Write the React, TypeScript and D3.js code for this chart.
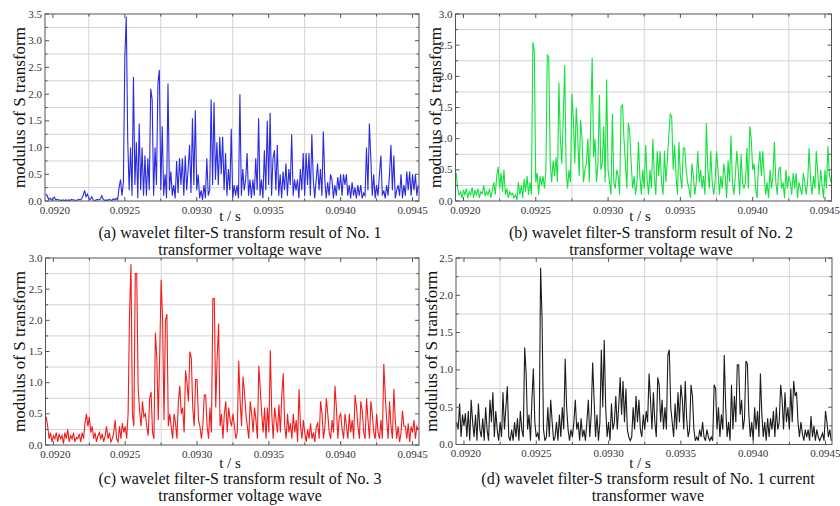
import React from 'react';
import * as d3 from 'd3';

const T_START = 0.09195;
const T_STEP = 0.00001;
const X_DOMAIN = [0.091945, 0.094545];
const X_TICKS = [0.092, 0.0925, 0.093, 0.0935, 0.094, 0.0945];
const X_GRID = [0.09225, 0.09275, 0.09325, 0.09375, 0.09425];

const seriesA = [
  0.13, 0.1, 0.03, 0.05, 0.02, 0.04, 0.07, 0.02, 0.03, 0.02,
  0.02, 0.01, 0.02, 0.01, 0.02, 0.01, 0.02, 0.01, 0.03, 0.02,
  0.02, 0.01, 0.02, 0.03, 0.02, 0.04, 0.1, 0.2, 0.08, 0.13,
  0.05, 0.03, 0.08, 0.02, 0.01, 0.02, 0.03, 0.02, 0.04, 0.1,
  0.03, 0.01, 0.02, 0.01, 0.03, 0.02, 0.01, 0.04, 0.02, 0.05,
  0.02, 0.25, 0.4, 0.1, 0.35, 2.7, 3.45, 1.15, 0.2, 1.0,
  0.1, 2.32, 0.3, 1.1, 0.05, 1.45, 0.2, 1.0, 0.1, 0.85,
  0.1, 0.8, 0.2, 2.1, 1.9, 0.1, 1.0, 0.3, 2.2, 2.45,
  0.2, 1.4, 0.1, 0.5, 0.05, 2.2, 0.2, 0.55, 0.1, 0.3,
  0.05, 0.75, 0.15, 0.8, 0.3, 0.8, 0.1, 0.85, 0.2, 0.6,
  1.05, 0.15, 1.55, 0.3, 1.7, 0.2, 0.5, 0.05, 0.2, 0.02,
  0.3, 0.05, 0.8, 0.1, 0.2, 1.9, 0.3, 1.85, 0.4, 1.1,
  0.3, 1.2, 0.5, 1.2, 0.2, 0.9, 0.1, 0.6, 0.2, 1.35,
  0.05, 0.3, 0.1, 0.3, 0.05, 2.0, 0.1, 0.6, 0.2, 0.4,
  0.9, 0.1, 0.4, 0.05, 0.4, 0.1, 0.8, 0.2, 1.55, 0.1,
  0.4, 0.05, 0.95, 0.2, 1.5, 0.3, 1.65, 0.1, 0.8, 0.95,
  0.2, 1.05, 0.1, 0.5, 0.05, 0.55, 0.2, 0.7, 0.1, 0.6,
  0.3, 1.25, 0.1, 0.4, 0.2, 0.4, 0.05, 0.6, 0.2, 0.9,
  0.1, 0.9, 0.3, 0.9, 0.1, 1.25, 0.4, 0.05, 0.4, 0.7,
  0.2, 0.6, 0.1, 1.3, 0.4, 0.05, 0.35, 0.1, 0.5, 0.4,
  0.05, 0.3, 0.1, 0.45, 0.2, 0.5, 0.1, 0.5, 0.3, 0.5,
  0.1, 0.3, 0.05, 0.35, 0.1, 0.25, 0.05, 0.3, 0.1, 0.3,
  0.05, 0.15, 0.1, 1.0, 0.2, 1.45, 0.8, 0.1, 0.5, 0.05,
  0.3, 0.1, 0.5, 0.85, 0.1, 0.2, 0.05, 0.3, 0.1, 0.5,
  1.05, 0.2, 0.85, 0.05, 0.2, 0.3, 0.1, 0.5, 0.05, 0.3,
  0.1, 0.55, 0.2, 0.55, 0.1, 0.5, 0.2, 0.5, 0.1, 0.3,
];

const seriesB = [
  0.45, 0.2, 0.1, 0.15, 0.05, 0.18, 0.1, 0.2, 0.05, 0.15,
  0.1, 0.22, 0.05, 0.18, 0.1, 0.2, 0.05, 0.15, 0.12, 0.25,
  0.08, 0.15, 0.1, 0.2, 0.05, 0.18, 0.3, 0.1, 0.4, 0.55,
  0.2, 0.45, 0.15, 0.5, 0.1, 0.2, 0.05, 0.15, 0.1, 0.12,
  0.05, 0.1, 0.02, 0.3, 0.1, 0.25, 0.05, 0.35, 0.15, 0.4,
  0.1, 0.3, 0.1, 2.55, 2.4, 0.3, 0.45, 0.1, 0.4, 0.25,
  0.4, 0.2, 0.5, 2.35, 2.3, 0.6, 0.3, 0.65, 0.4, 0.7,
  0.3, 1.9, 1.0, 0.6, 1.3, 2.18, 0.5, 0.2, 0.5, 0.3,
  1.72, 1.3, 0.6, 1.5, 1.05, 0.4, 1.3, 1.0, 0.3, 0.5,
  0.6, 1.0, 0.3, 1.3, 2.3, 0.7, 1.0, 0.3, 0.6, 1.7,
  0.5, 0.6, 1.2, 0.3, 1.95, 0.5, 0.3, 0.1, 1.4, 0.3,
  0.2, 0.5, 0.4, 0.1, 1.5, 1.55, 1.0, 0.6, 0.2, 1.25,
  1.1, 0.6, 0.2, 0.4, 0.1, 0.3, 0.95, 0.4, 0.1, 0.5,
  0.2, 0.9, 0.35, 0.1, 0.5, 0.2, 1.0, 0.4, 0.1, 0.8,
  0.4, 0.8, 0.3, 0.1, 0.8, 0.3, 0.65, 1.05, 1.4, 1.35,
  0.5, 0.9, 0.4, 0.1, 0.95, 0.4, 0.2, 0.85, 0.85, 0.5,
  0.3, 0.2, 0.05, 0.6, 0.4, 0.1, 0.3, 0.8, 0.3, 0.5,
  0.2, 0.4, 0.1, 1.25, 0.5, 0.2, 0.8, 0.3, 0.1, 0.3,
  0.8, 0.5, 0.1, 0.4, 0.2, 0.6, 0.4, 0.05, 0.65, 0.3,
  1.05, 0.3, 0.1, 0.4, 0.8, 0.5, 0.1, 0.75, 0.3, 0.2,
  0.3, 0.85, 0.2, 1.2, 1.0, 0.5, 0.6, 0.2, 0.05, 0.55,
  0.8, 0.4, 0.8, 0.4, 0.1, 0.3, 0.05, 0.5, 0.2, 0.4,
  0.95, 0.3, 0.1, 0.5, 0.55, 0.2, 0.3, 0.05, 0.5, 0.2,
  0.4, 0.3, 0.1, 0.45, 0.2, 0.45, 0.05, 0.3, 0.2, 0.1,
  0.45, 0.3, 0.1, 0.3, 0.85, 0.35, 0.1, 0.4, 0.2, 0.8,
  0.45, 0.1, 0.5, 0.25, 0.05, 0.5, 0.2, 0.88, 0.45, 0.3,
];

const seriesC = [
  0.45, 0.3, 0.1, 0.2, 0.05, 0.15, 0.1, 0.2, 0.05, 0.18,
  0.1, 0.15, 0.02, 0.2, 0.1, 0.25, 0.05, 0.15, 0.1, 0.2,
  0.05, 0.12, 0.1, 0.18, 0.05, 0.2, 0.1, 0.35, 0.5, 0.3,
  0.45, 0.2, 0.3, 0.1, 0.2, 0.05, 0.15, 0.2, 0.1, 0.18,
  0.05, 0.15, 0.3, 0.1, 0.2, 0.05, 0.1, 0.2, 0.4, 0.1,
  0.05, 0.3, 0.1, 0.35, 0.2, 0.3, 0.1, 0.5, 2.1, 2.9,
  0.5, 0.3, 2.75, 2.75, 0.9, 0.55, 0.3, 0.7, 0.45, 0.5,
  0.3, 0.15, 0.75, 0.85, 0.2, 0.1, 1.8, 1.4, 0.4, 1.45,
  2.65, 2.0, 0.4, 2.0, 2.1, 0.3, 0.5, 0.3, 0.1, 0.5,
  0.35, 0.1, 0.7, 0.95, 0.5, 0.6, 0.2, 1.2, 1.0, 0.7,
  1.5, 1.4, 0.6, 0.3, 1.05, 1.05, 0.4, 0.3, 0.1, 0.3,
  0.8, 0.8, 0.3, 0.1, 0.6, 0.2, 2.35, 2.35, 0.6, 1.4,
  1.95, 0.3, 0.5, 0.1, 0.5, 0.7, 0.2, 0.6, 0.4, 0.3,
  0.5, 0.3, 0.1, 0.2, 1.35, 0.7, 0.3, 1.1, 0.85, 0.5,
  0.3, 0.1, 0.7, 0.5, 0.2, 0.6, 0.4, 0.1, 1.27, 0.9,
  0.5, 0.2, 0.6, 0.1, 0.6, 0.2, 1.52, 0.5, 0.1, 0.6,
  0.4, 0.2, 0.65, 0.2, 0.8, 1.15, 0.3, 0.1, 0.5, 0.2,
  0.35, 0.1, 0.5, 0.2, 0.4, 0.05, 0.9, 0.3, 0.1, 0.4,
  0.2, 0.05, 0.25, 0.1, 0.35, 0.1, 0.2, 0.05, 0.3, 0.35,
  0.1, 0.7, 0.5, 0.1, 0.3, 0.75, 0.5, 0.2, 0.1, 0.4,
  0.2, 0.95, 0.6, 0.1, 0.45, 0.5, 0.25, 0.1, 0.5, 0.3,
  0.1, 0.5, 0.2, 0.4, 0.1, 0.8, 0.6, 0.3, 0.1, 0.7,
  0.55, 0.2, 0.1, 0.75, 0.4, 0.1, 0.7, 0.5, 0.2, 0.1,
  0.5, 0.2, 0.1, 0.4, 0.1, 1.3, 0.8, 0.4, 0.1, 0.7,
  0.3, 0.1, 0.9, 0.4, 0.1, 0.3, 0.05, 0.2, 0.55, 0.3,
  0.3, 0.1, 0.35, 0.05, 0.3, 0.2, 0.4, 0.1, 0.3, 0.25,
];

const seriesD = [
  0.3, 0.2, 0.55, 0.1, 0.4, 0.25, 0.42, 0.1, 0.45, 0.05,
  0.6, 0.3, 0.1, 0.4, 0.05, 0.55, 0.2, 0.1, 0.35, 0.05,
  0.5, 0.2, 0.05, 0.6, 0.3, 0.7, 0.1, 0.45, 0.2, 0.05,
  0.3, 0.1, 0.7, 0.2, 0.5, 0.78, 0.1, 0.05, 0.2, 0.05,
  0.3, 0.1, 0.35, 0.05, 0.45, 0.2, 0.1, 1.3, 0.95, 0.2,
  0.4, 0.05, 0.6, 1.02, 0.3, 0.1, 0.15, 0.05, 2.37, 1.7,
  0.2, 0.05, 0.1, 0.5, 0.1, 0.6, 0.3, 0.05, 0.1, 0.3,
  0.05, 0.4, 0.1, 0.5, 0.2, 1.15, 0.5, 0.2, 0.05, 0.2,
  0.1, 0.3, 0.6, 0.2, 0.3, 0.05, 0.35, 0.1, 0.2, 0.05,
  0.3, 0.6, 0.1, 0.4, 1.1, 0.6, 0.1, 0.4, 0.05, 0.3,
  1.27, 0.5, 1.4, 0.5, 0.1, 0.3, 0.05, 0.55, 0.2, 0.3,
  0.65, 0.2, 0.5, 0.9, 0.4, 0.85, 0.3, 0.75, 0.2, 0.1,
  0.05, 0.1, 0.5, 0.2, 0.65, 0.3, 0.6, 0.2, 0.1, 0.4,
  0.2, 0.45, 0.3, 0.95, 0.6, 0.2, 0.7, 0.3, 0.1, 0.9,
  0.8, 0.3, 0.6, 0.2, 0.5, 0.2, 1.2, 1.27, 0.5, 0.3,
  0.1, 0.55, 0.2, 0.7, 0.3, 0.8, 0.6, 0.2, 0.85, 0.35,
  0.1, 0.2, 0.8, 0.65, 0.2, 0.05, 0.1, 0.05, 0.2, 0.1,
  0.3, 0.1, 0.05, 0.2, 0.1, 0.05, 0.1, 0.05, 0.8, 0.75,
  0.2, 0.5, 0.1, 0.4, 0.2, 1.2, 0.5, 0.1, 0.3, 0.05,
  0.8, 0.2, 0.65, 0.3, 1.07, 1.07, 0.4, 0.6, 0.2, 0.35,
  1.12, 1.08, 0.4, 0.1, 0.3, 0.05, 0.5, 0.2, 0.45, 0.1,
  0.95, 0.4, 0.1, 0.3, 0.05, 0.35, 0.1, 0.35, 0.2, 0.45,
  0.1, 0.5, 0.2, 0.3, 0.8, 0.6, 0.2, 0.7, 0.3, 0.5,
  0.2, 0.75, 0.3, 0.85, 0.65, 0.7, 0.3, 0.1, 0.3, 0.15,
  0.05, 0.2, 0.1, 0.2, 0.05, 0.38, 0.1, 0.25, 0.05, 0.2,
  0.1, 0.05, 0.1, 0.15, 0.05, 0.45, 0.3, 0.1, 0.2, 0.05,
];

const Y_MAX = [3.5, 3.0, 3.0, 2.5];
const COLORS = ['#2a2ae0', '#12e23c', '#f21c1c', '#1c1c1c'];
const CAPTIONS = [
  ['(a) wavelet filter-S transform result of No. 1', 'transformer voltage wave'],
  ['(b) wavelet filter-S transform result of No. 2', 'transformer voltage wave'],
  ['(c) wavelet filter-S transform result of No. 3', 'transformer voltage wave'],
  ['(d) wavelet filter-S transform result of No. 1 current', 'transformer wave'],
];
const Y_LABEL = 'modulus of S transform';
const X_LABEL = 't / s';

const SERIES = [seriesA, seriesB, seriesC, seriesD];

const LAYOUT = [
  { left: 45, right: 419, top: 14, bottom: 201, ylabX: 25, capX: 240, tsX: 230, tsY: 221, cap1: 238, cap2: 255 },
  { left: 455.5, right: 831.5, top: 14, bottom: 201, ylabX: 441, capX: 651, tsX: 640, tsY: 221, cap1: 238, cap2: 255 },
  { left: 45.5, right: 419, top: 258, bottom: 445, ylabX: 25, capX: 240, tsX: 230, tsY: 468, cap1: 484, cap2: 501 },
  { left: 456, right: 832, top: 258, bottom: 444.5, ylabX: 437, capX: 648, tsX: 640, tsY: 468, cap1: 484, cap2: 501 },
];

const SERIF = "'Liberation Serif', 'Times New Roman', serif";

function Panel({ idx }: { idx: number }) {
  const L = LAYOUT[idx];
  const values = SERIES[idx];
  const yMax = Y_MAX[idx];
  const x = d3.scaleLinear().domain(X_DOMAIN).range([L.left, L.right]);
  const y = d3.scaleLinear().domain([0, yMax]).range([L.bottom, L.top]);
  const yTicks = d3.range(0, yMax + 0.001, 0.5);
  const yGrid = d3.range(0.25, yMax, 0.5);
  const data = values.map((v, i) => [T_START + i * T_STEP, v] as [number, number]);
  const line = d3
    .line<[number, number]>()
    .x((d) => x(d[0]))
    .y((d) => y(d[1]));
  const clipId = `clip-${idx}`;
  const frame = '#555';
  return (
    <g>
      <defs>
        <clipPath id={clipId}>
          <rect x={L.left} y={L.top} width={L.right - L.left} height={L.bottom - L.top} />
        </clipPath>
      </defs>
      <rect x={L.left} y={L.top} width={L.right - L.left} height={L.bottom - L.top} fill="#fff" />
      {X_GRID.map((g) => (
        <line key={'xg' + g} x1={x(g)} x2={x(g)} y1={L.top} y2={L.bottom} stroke="#d4d4d4" strokeWidth={1} />
      ))}
      {yGrid.map((g) => (
        <line key={'yg' + g} x1={L.left} x2={L.right} y1={y(g)} y2={y(g)} stroke="#d4d4d4" strokeWidth={1} />
      ))}
      <path d={line(data) || ''} fill="none" stroke={COLORS[idx]} strokeWidth={1.1} clipPath={`url(#${clipId})`} />
      <rect x={L.left} y={L.top} width={L.right - L.left} height={L.bottom - L.top} fill="none" stroke={frame} strokeWidth={1} />
      {X_TICKS.map((t) => (
        <g key={'xt' + t}>
          <line x1={x(t)} x2={x(t)} y1={L.bottom} y2={L.bottom - 4} stroke={frame} />
          <line x1={x(t)} x2={x(t)} y1={L.top} y2={L.top + 4} stroke={frame} />
          <text x={x(t) + (t === X_TICKS[0] ? 2 : 0)} y={L.bottom + 12.5} textAnchor="middle" fontFamily={SERIF} fontSize={11} fill="#333">
            {t.toFixed(4)}
          </text>
        </g>
      ))}
      {X_GRID.map((t) => (
        <g key={'xm' + t}>
          <line x1={x(t)} x2={x(t)} y1={L.bottom} y2={L.bottom - 2.5} stroke={frame} />
          <line x1={x(t)} x2={x(t)} y1={L.top} y2={L.top + 2.5} stroke={frame} />
        </g>
      ))}
      {yTicks.map((v) => (
        <g key={'yt' + v}>
          <line x1={L.left} x2={L.left + 4} y1={y(v)} y2={y(v)} stroke={frame} />
          <line x1={L.right} x2={L.right - 4} y1={y(v)} y2={y(v)} stroke={frame} />
          <text x={L.left - 3} y={y(v) + 3.5} textAnchor="end" fontFamily={SERIF} fontSize={11} fill="#333">
            {v.toFixed(1)}
          </text>
        </g>
      ))}
      {yGrid.map((v) => (
        <g key={'ym' + v}>
          <line x1={L.left} x2={L.left + 2.5} y1={y(v)} y2={y(v)} stroke={frame} />
          <line x1={L.right} x2={L.right - 2.5} y1={y(v)} y2={y(v)} stroke={frame} />
        </g>
      ))}
      <text
        transform={`translate(${L.ylabX},${(L.top + L.bottom) / 2}) rotate(-90)`}
        textAnchor="middle"
        fontFamily={SERIF}
        fontSize={17}
        fill="#111"
      >
        {Y_LABEL}
      </text>
      <text x={L.tsX} y={L.tsY} textAnchor="middle" fontFamily={SERIF} fontSize={15} fill="#111">
        {X_LABEL}
      </text>
      <text x={L.capX} y={L.cap1} textAnchor="middle" fontFamily={SERIF} fontSize={16} fill="#111">
        {CAPTIONS[idx][0]}
      </text>
      <text x={L.capX} y={L.cap2} textAnchor="middle" fontFamily={SERIF} fontSize={16} fill="#111">
        {CAPTIONS[idx][1]}
      </text>
    </g>
  );
}

export default function App() {
  return (
    <svg
      width={840}
      height={506}
      style={{ position: 'absolute', left: 0, top: 0, background: '#fff' }}
      xmlns="http://www.w3.org/2000/svg"
    >
      <rect x={0} y={0} width={840} height={506} fill="#fff" />
      {[0, 1, 2, 3].map((i) => (
        <Panel key={i} idx={i} />
      ))}
    </svg>
  );
}
